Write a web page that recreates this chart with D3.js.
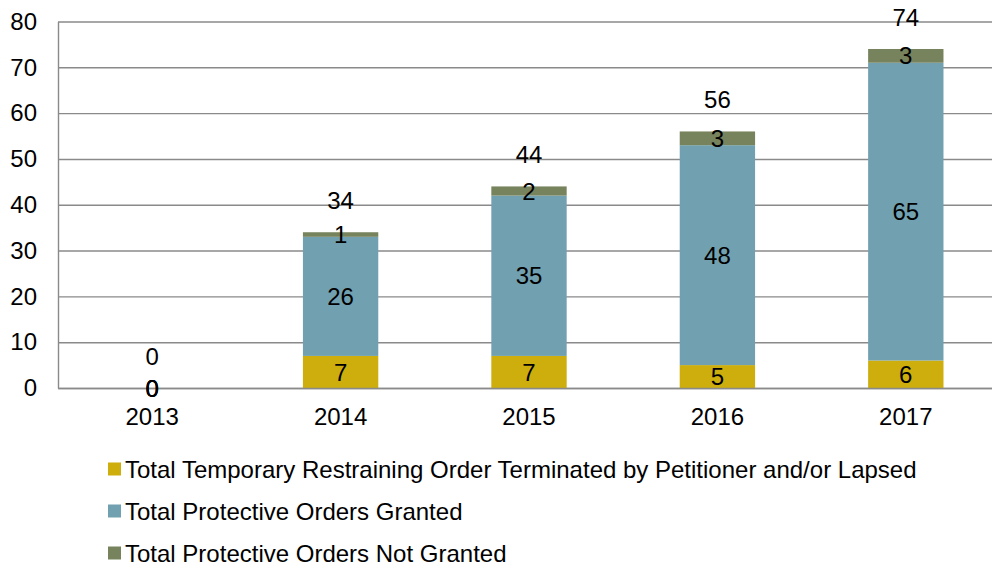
<!DOCTYPE html>
<html>
<head>
<meta charset="utf-8">
<script src="https://cdn.jsdelivr.net/npm/d3@7"></script>
<style>
  body { margin: 0; background: #fff; }
  svg { display: block; font-family: "Liberation Sans", Arial, sans-serif; }
</style>
</head>
<body>
<div id="main"></div>
<script>
const years = ["2013", "2014", "2015", "2016", "2017"];
const troLapsed = [0, 7, 7, 5, 6];
const granted = [0, 26, 35, 48, 65];
const notGranted = [0, 1, 2, 3, 3];
const totals = [0, 34, 44, 56, 74];
const yTicks = [0, 10, 20, 30, 40, 50, 60, 70, 80];
const seriesNames = [
    "Total Temporary Restraining Order Terminated by Petitioner and/or Lapsed",
    "Total Protective Orders Granted",
    "Total Protective Orders Not Granted"
];
const seriesColors = ["#cdae0c", "#71a1b0", "#77835d"];

const width = 992;
const height = 569;
const fontSize = 24;
const margin = ({top: 21.5, right: -8, bottom: 181, left: 58});

const table = years.map((yr, i) => ({
    year: yr,
    s0: troLapsed[i],
    s1: granted[i],
    s2: notGranted[i],
    total: totals[i]
}));

const x = d3.scaleBand()
    .domain(years)
    .range([margin.left, width - margin.right])
    .paddingInner(0.6)
    .paddingOuter(0.3);

const y = d3.scaleLinear()
    .domain([0, 80])
    .range([height - margin.bottom, margin.top]);

const svg = d3.create("svg")
    .attr("width", width)
    .attr("height", height)
    .attr("viewBox", [0, 0, width, height]);

// grid + y labels
svg.append("g")
    .attr("transform", `translate(${margin.left},0)`)
    .call(d3.axisLeft(y).tickValues(yTicks).tickFormat(d3.format("d"))
        .tickSize(-(width - margin.right - margin.left)).tickSizeOuter(0).tickPadding(21))
    .call(g => g.select(".domain").attr("stroke", "#8a8a8a").attr("stroke-width", 1.4))
    .call(g => g.selectAll(".tick line").attr("stroke", "#8a8a8a").attr("stroke-width", 1.4))
    .call(g => g.selectAll(".tick text").attr("font-size", fontSize).attr("fill", "#000")
        .attr("font-family", "Liberation Sans, Arial, sans-serif"));

const stack = d3.stack().keys(["s0", "s1", "s2"]);
const layers = stack(table);

svg.append("g")
    .selectAll("g")
    .data(layers)
    .join("g")
    .attr("fill", (d, i) => seriesColors[i])
    .selectAll("rect")
    .data(d => d)
    .join("rect")
    .attr("x", d => x(d.data.year))
    .attr("width", x.bandwidth())
    .attr("y", d => y(d[1]))
    .attr("height", d => y(d[0]) - y(d[1]));

// x axis
svg.append("g")
    .attr("transform", `translate(0,${height - margin.bottom})`)
    .call(d3.axisBottom(x).tickSize(0).tickPadding(19.5))
    .call(g => g.select(".domain").attr("stroke", "#8a8a8a").attr("stroke-width", 1.4))
    .call(g => g.selectAll(".tick text").attr("font-size", fontSize).attr("fill", "#000")
        .attr("font-family", "Liberation Sans, Arial, sans-serif"));

// segment labels
svg.append("g")
    .selectAll("g")
    .data(layers)
    .join("g")
    .selectAll("text")
    .data(d => d)
    .join("text")
    .attr("x", d => x(d.data.year) + x.bandwidth() / 2)
    .attr("y", d => y((d[0] + d[1]) / 2))
    .attr("dy", "0.36em")
    .attr("text-anchor", "middle")
    .attr("font-size", fontSize)
    .text(d => d[1] - d[0]);

// total labels
svg.append("g")
    .selectAll("text")
    .data(table)
    .join("text")
    .attr("x", d => x(d.year) + x.bandwidth() / 2)
    .attr("y", d => y(d.total) - 32)
    .attr("dy", "0.36em")
    .attr("text-anchor", "middle")
    .attr("font-size", fontSize)
    .text(d => d.total);

// legend
const legend = svg.append("g")
    .selectAll("g")
    .data(seriesNames)
    .join("g")
    .attr("transform", (d, i) => `translate(108,${469 + i * 42})`);

legend.append("rect")
    .attr("x", 0)
    .attr("y", -6.5)
    .attr("width", 13)
    .attr("height", 13)
    .attr("fill", (d, i) => seriesColors[i]);

legend.append("text")
    .attr("x", 17)
    .attr("dy", "0.36em")
    .attr("font-size", fontSize)
    .text(d => d);

d3.select("#main").append(() => svg.node());
</script>
</body>
</html>
